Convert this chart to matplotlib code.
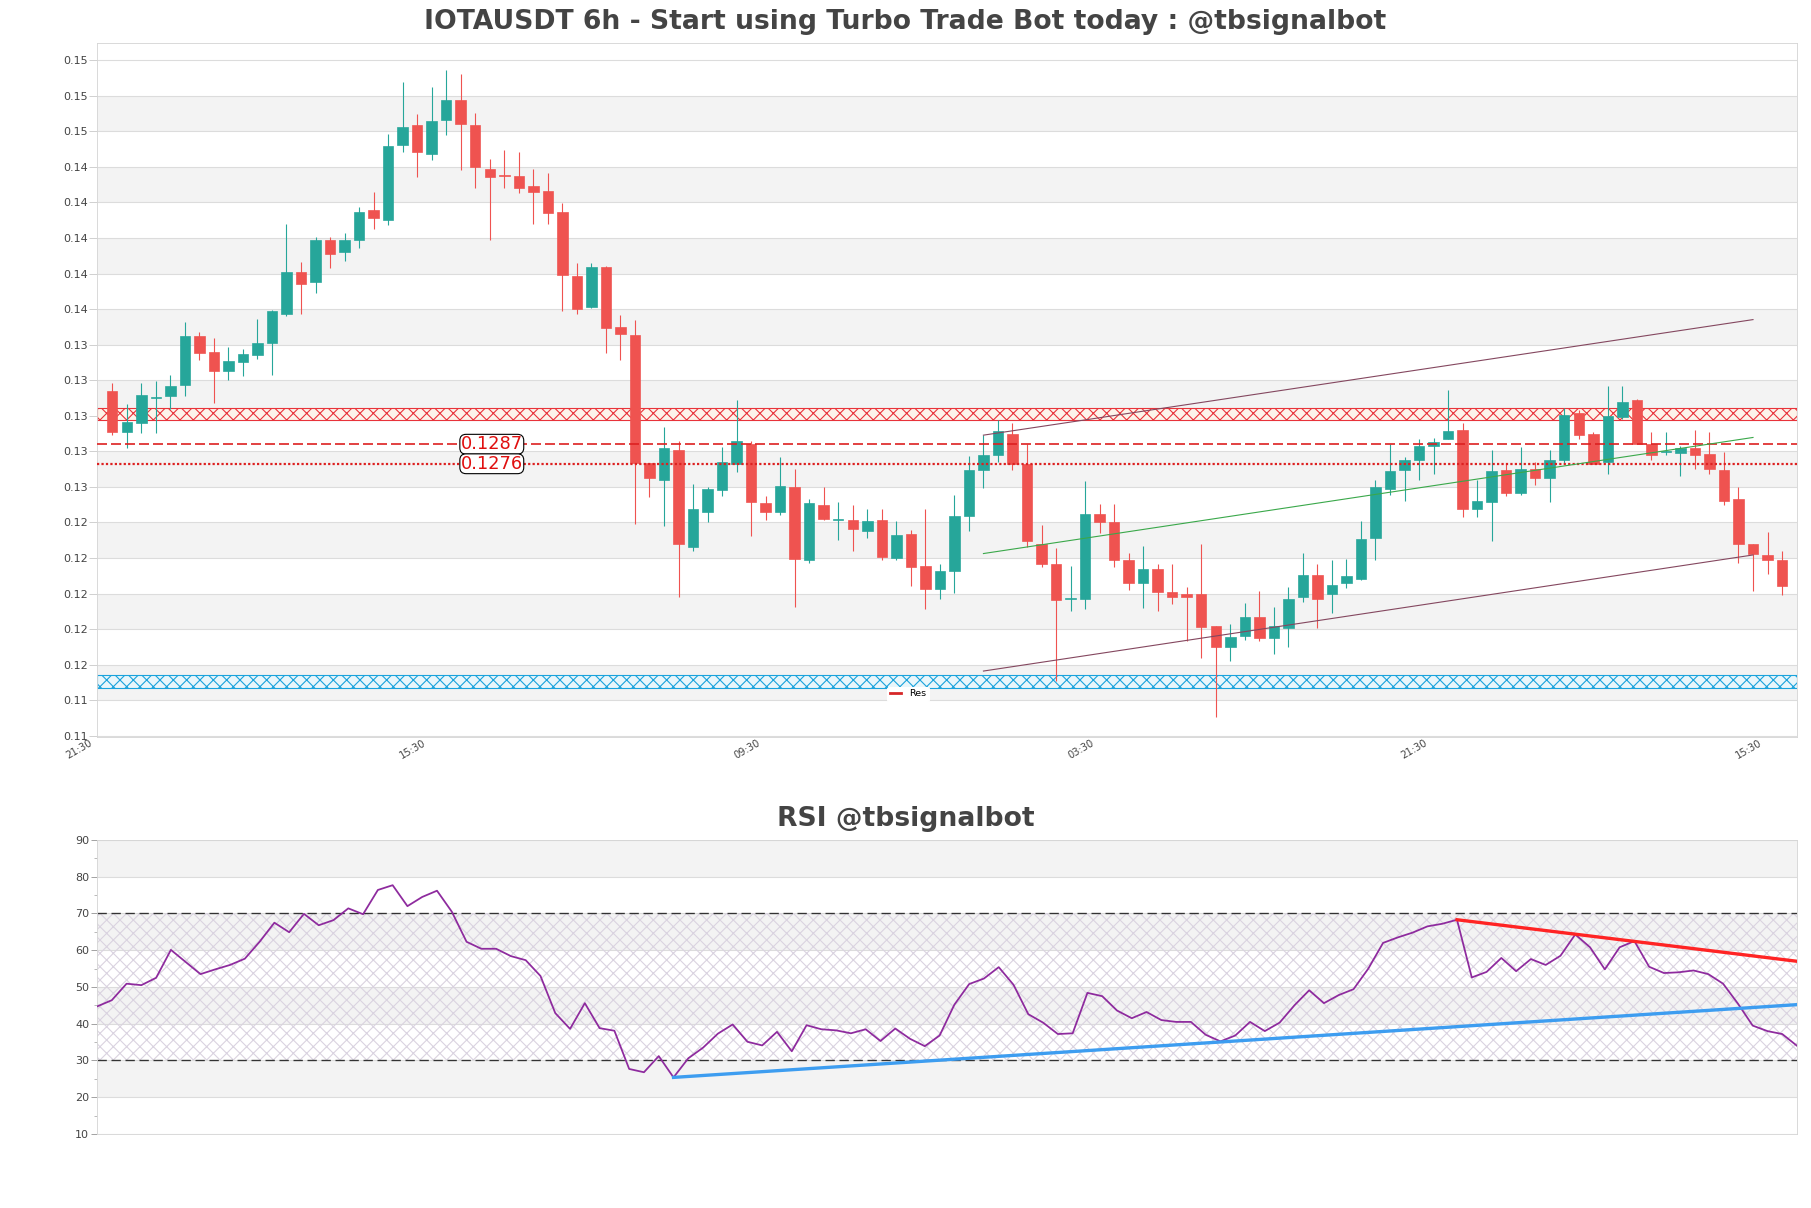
import numpy as np
import matplotlib.pyplot as plt
from matplotlib.lines import Line2D
from matplotlib.ticker import FormatStrFormatter, MultipleLocator
from matplotlib.transforms import ScaledTranslation

# IOTAUSDT 6h candles
opens = [0.13169, 0.12941, 0.12990, 0.13132, 0.13143, 0.13205, 0.13478, 0.13388, 0.13282, 0.13334,
         0.13373, 0.13440, 0.13605, 0.13837, 0.13783, 0.14018, 0.13954, 0.14020, 0.14186, 0.14132,
         0.14555, 0.14664, 0.14503, 0.14695, 0.14806, 0.14664, 0.14416, 0.14382, 0.14377, 0.14325,
         0.14292, 0.14176, 0.13814, 0.13644, 0.13866, 0.13527, 0.13484, 0.12763, 0.12670, 0.12836,
         0.12293, 0.12490, 0.12613, 0.12758, 0.12874, 0.12539, 0.12490, 0.12629, 0.12216, 0.12526,
         0.12446, 0.12446, 0.12384, 0.12446, 0.12229, 0.12363, 0.12187, 0.12053, 0.12156, 0.12464,
         0.12724, 0.12810, 0.12926, 0.12758, 0.12311, 0.12195, 0.11999, 0.12001, 0.12479, 0.12435,
         0.12221, 0.12092, 0.12169, 0.12040, 0.12027, 0.12027, 0.11847, 0.11730, 0.11790, 0.11898,
         0.11782, 0.11834, 0.12009, 0.12133, 0.12025, 0.12087, 0.12112, 0.12345, 0.12616, 0.12724,
         0.12784, 0.12861, 0.12897, 0.12952, 0.12505, 0.12544, 0.12724, 0.12593, 0.12732, 0.12681,
         0.12784, 0.13047, 0.12926, 0.12771, 0.13024, 0.13117, 0.12874, 0.12825, 0.12823, 0.12848,
         0.12815, 0.12724, 0.12564, 0.12311, 0.12247, 0.12221]
highs = [0.13212, 0.13094, 0.13212, 0.13225, 0.13259, 0.13556, 0.13502, 0.13466, 0.13416, 0.13406,
         0.13574, 0.13626, 0.14108, 0.13894, 0.14034, 0.14034, 0.14059, 0.14207, 0.14287, 0.14615,
         0.14906, 0.14726, 0.14878, 0.14973, 0.14955, 0.14736, 0.14472, 0.14524, 0.14516, 0.14416,
         0.14395, 0.14225, 0.13889, 0.13889, 0.13873, 0.13595, 0.13566, 0.12763, 0.12965, 0.12887,
         0.12644, 0.12632, 0.12854, 0.13120, 0.12887, 0.12580, 0.12797, 0.12732, 0.12564, 0.12629,
         0.12544, 0.12526, 0.12505, 0.12505, 0.12438, 0.12389, 0.12505, 0.12195, 0.12582, 0.12802,
         0.12921, 0.13009, 0.12990, 0.12874, 0.12415, 0.12286, 0.12187, 0.12665, 0.12531, 0.12531,
         0.12260, 0.12296, 0.12198, 0.12195, 0.12066, 0.12311, 0.11847, 0.11857, 0.11976, 0.12043,
         0.11952, 0.12066, 0.12260, 0.12195, 0.12221, 0.12224, 0.12438, 0.12668, 0.12874, 0.12797,
         0.12897, 0.12903, 0.13174, 0.12990, 0.12668, 0.12836, 0.12763, 0.12854, 0.12771, 0.12836,
         0.13076, 0.13065, 0.12936, 0.13200, 0.13200, 0.13125, 0.12939, 0.12939, 0.12861, 0.12952,
         0.12939, 0.12828, 0.12632, 0.12311, 0.12376, 0.12267]
lows = [0.12923, 0.12846, 0.12934, 0.12934, 0.13068, 0.13143, 0.13344, 0.13104, 0.13233, 0.13254,
        0.13352, 0.13262, 0.13592, 0.13605, 0.13721, 0.13863, 0.13902, 0.13974, 0.14083, 0.14103,
        0.14514, 0.14374, 0.14470, 0.14609, 0.14413, 0.14312, 0.14020, 0.14312, 0.14284, 0.14111,
        0.14111, 0.13618, 0.13605, 0.13639, 0.13385, 0.13344, 0.12422, 0.12575, 0.12409, 0.12012,
        0.12270, 0.12435, 0.12577, 0.12714, 0.12355, 0.12446, 0.12471, 0.11952, 0.12203, 0.12443,
        0.12332, 0.12270, 0.12345, 0.12216, 0.12221, 0.12074, 0.11945, 0.11999, 0.12035, 0.12384,
        0.12624, 0.12771, 0.12724, 0.12293, 0.12177, 0.11537, 0.11934, 0.11945, 0.12371, 0.12177,
        0.12051, 0.11947, 0.11934, 0.11973, 0.11764, 0.11666, 0.11333, 0.11653, 0.11769, 0.11764,
        0.11692, 0.11730, 0.11983, 0.11834, 0.11921, 0.12061, 0.12105, 0.12221, 0.12582, 0.12551,
        0.12670, 0.12704, 0.12897, 0.12461, 0.12461, 0.12324, 0.12577, 0.12582, 0.12642, 0.12544,
        0.12758, 0.12897, 0.12758, 0.12704, 0.13014, 0.12874, 0.12784, 0.12810, 0.12694, 0.12732,
        0.12704, 0.12526, 0.12203, 0.12043, 0.12138, 0.12022]
closes = [0.12941, 0.12993, 0.13145, 0.13135, 0.13197, 0.13478, 0.13385, 0.13282, 0.13336, 0.13375,
          0.13437, 0.13618, 0.13837, 0.13773, 0.14018, 0.13941, 0.14018, 0.14176, 0.14145, 0.14545,
          0.14653, 0.14514, 0.14687, 0.14806, 0.14671, 0.14431, 0.14374, 0.14377, 0.14312, 0.14289,
          0.14170, 0.13822, 0.13631, 0.13866, 0.13525, 0.13491, 0.12763, 0.12681, 0.12848, 0.12311,
          0.12505, 0.12616, 0.12771, 0.12887, 0.12544, 0.12487, 0.12634, 0.12224, 0.12539, 0.12451,
          0.12449, 0.12394, 0.12438, 0.12234, 0.12358, 0.12177, 0.12053, 0.12156, 0.12466, 0.12724,
          0.12810, 0.12944, 0.12758, 0.12324, 0.12195, 0.11996, 0.12004, 0.12479, 0.12435, 0.12216,
          0.12092, 0.12169, 0.12040, 0.12012, 0.12012, 0.11844, 0.11730, 0.11787, 0.11898, 0.11782,
          0.11847, 0.11999, 0.12133, 0.12001, 0.12076, 0.12128, 0.12337, 0.12629, 0.12719, 0.12784,
          0.12861, 0.12885, 0.12944, 0.12505, 0.12551, 0.12719, 0.12595, 0.12732, 0.12681, 0.12784,
          0.13034, 0.12923, 0.12758, 0.13027, 0.13107, 0.12874, 0.12810, 0.12830, 0.12848, 0.12810,
          0.12732, 0.12551, 0.12311, 0.12255, 0.12221, 0.12074]

rsi = [44.7, 46.4, 50.9, 50.5, 52.5, 60.1, 56.8, 53.5, 54.8, 56.0,
       57.7, 62.3, 67.5, 64.9, 69.9, 66.8, 68.2, 71.4, 69.8, 76.4,
       77.7, 72.0, 74.5, 76.2, 70.5, 62.3, 60.4, 60.4, 58.4, 57.3,
       53.0, 42.9, 38.6, 45.6, 38.8, 38.1, 27.7, 26.8, 31.2, 25.4,
       30.6, 33.5, 37.3, 39.8, 35.1, 34.1, 37.8, 32.5, 39.6, 38.5,
       38.2, 37.4, 38.5, 35.3, 38.7, 35.9, 33.9, 36.8, 45.2, 50.8,
       52.3, 55.4, 50.6, 42.6, 40.3, 37.2, 37.4, 48.4, 47.5, 43.6,
       41.5, 43.2, 41.0, 40.5, 40.5, 37.0, 35.2, 36.8, 40.5, 38.0,
       40.3, 45.0, 49.1, 45.6, 47.8, 49.4, 55.0, 62.0, 63.5, 64.8,
       66.5, 67.2, 68.3, 52.6, 54.1, 57.9, 54.3, 57.6, 56.0, 58.5,
       64.3, 60.8, 54.8, 60.8, 62.5, 55.5, 53.8, 54.0, 54.5, 53.5,
       50.9, 45.5, 39.5, 38.0, 37.2, 34.0]

tick_idx = [0, 23, 46, 69, 92, 115]
tick_labels = ['21:30', '15:30', '09:30', '03:30', '21:30', '15:30']
price_ticks = [0.1123, 0.1143, 0.1163, 0.1183, 0.1203, 0.1223, 0.1243, 0.1263, 0.1283, 0.1303,
               0.1323, 0.1343, 0.1363, 0.1383, 0.1403, 0.1423, 0.1443, 0.1463, 0.1483, 0.1503]

# support / resistance
res_zone = (0.13009, 0.13076)
sup_zone = (0.11501, 0.11570)
res_level = 0.1287
res_level2 = 0.1276

# channel lines: (x start, x end), (price start, price end)
chan_top = ([60, 113], [0.12921, 0.13571])
chan_mid = ([60, 113], [0.12255, 0.12908])
chan_low = ([60, 113], [0.11594, 0.12247])
rsi_sup_line = ([39, 115], [25.4, 45.2])
rsi_res_line = ([92, 115], [68.3, 57.0])

GREEN = '#26a69a'
RED = '#ef5350'
SPINE = '#d6d6d6'
BAND = '#f3f3f3'

fig = plt.figure(figsize=(1811 / 80, 1208 / 80), dpi=80)
ax = fig.add_axes([0.05356, 0.38990, 0.93871, 0.57450])
ax2 = fig.add_axes([0.05356, 0.06126, 0.93871, 0.24338])

# ---- price panel ----
x = np.arange(len(opens))
o = np.array(opens)
c = np.array(closes)
up = c >= o
colors = np.where(up, GREEN, RED)

for k in range(1, len(price_ticks) - 1, 2):
    ax.axhspan(price_ticks[k], price_ticks[k + 1], color=BAND, lw=0, zorder=0)

ax.axhspan(*res_zone, facecolor='#fdf4ea', edgecolor='#e8333a', hatch='xx', lw=1, zorder=1)
ax.axhspan(*sup_zone, facecolor='#e9f6fb', edgecolor='#1aa3dc', hatch='xx', lw=1, zorder=1)

ax.vlines(x, lows, highs, color=colors, lw=1, zorder=3)
ax.bar(x, np.abs(c - o), bottom=np.minimum(o, c), width=0.72, color=colors,
       edgecolor=colors, lw=0.6, zorder=4)

ax.axhline(res_level, color='#dd2020', ls=(0, (6, 2.4)), lw=1.5, zorder=5)
ax.axhline(res_level2, color='#dd2020', ls=(0, (1, 1)), lw=2, zorder=5)
box = dict(boxstyle='round,pad=0.05,rounding_size=0.35', fc='white', ec='black', lw=1)
ax.text(24, res_level, '%.4f' % res_level, color='#e01010', fontsize=16, ha='left', va='center',
        bbox=box, zorder=6)
ax.text(24, res_level2, '%.4f' % res_level2, color='#e01010', fontsize=16, ha='left', va='center',
        bbox=box, zorder=6)

ax.plot(*chan_top, color='#84475f', lw=1, zorder=5)
ax.plot(*chan_low, color='#84475f', lw=1, zorder=5)
ax.plot(*chan_mid, color='#3aa84a', lw=1, zorder=5)

ax.set_xlim(-1.05, 116.03)
ax.set_ylim(0.11223, 0.15127)
ax.set_yticks(price_ticks)
ax.yaxis.set_major_formatter(FormatStrFormatter('%.2f'))
ax.yaxis.grid(True, color='#dcdcdc', lw=1)
ax.set_axisbelow(True)
ax.tick_params(axis='y', length=7.5, color='#cccccc', labelsize=10, labelcolor='#444444', pad=1)
ax.set_xticks(tick_idx)
ax.set_xticklabels(tick_labels, rotation=30, ha='right', fontsize=9, color='#444444')
ax.tick_params(axis='x', length=0, pad=1)
shift = ScaledTranslation(-18.7 / 80, 0, fig.dpi_scale_trans)
for lbl in ax.get_xticklabels():
    lbl.set_transform(lbl.get_transform() + shift)
for s in ax.spines.values():
    s.set_color(SPINE)

fig.legend(handles=[Line2D([], [], color='#d62728', lw=2.5)], labels=['Res'], loc='center',
           bbox_to_anchor=(0.5014, 0.4255), fontsize=8.5, facecolor='white', edgecolor='white',
           framealpha=1, handlelength=1.2, borderpad=0.3)

# ---- RSI panel ----
for lo in [20, 40, 60, 80]:
    ax2.axhspan(lo, lo + 10, color=BAND, lw=0, zorder=0)
ax2.axhspan(30, 70, facecolor='none', edgecolor='#dad3e0', hatch='xx', lw=0, zorder=1)
ax2.axhline(30, color='#333333', ls=(0, (7, 3.5)), lw=1.2, zorder=2)
ax2.axhline(70, color='#333333', ls=(0, (7, 3.5)), lw=1.2, zorder=2)
ax2.plot(np.arange(len(rsi)), rsi, color='#8e2b9e', lw=1.6, zorder=4)
ax2.plot(*rsi_sup_line, color='#3d9df0', lw=3, zorder=5)
ax2.plot(*rsi_res_line, color='#ff2424', lw=3, zorder=5)

ax2.set_xlim(0, len(rsi) - 1)
ax2.set_ylim(10, 90)
ax2.yaxis.set_major_locator(MultipleLocator(10))
ax2.yaxis.set_minor_locator(MultipleLocator(5))
ax2.yaxis.grid(True, color='#dcdcdc', lw=1)
ax2.set_axisbelow(True)
ax2.set_xticks([])
ax2.tick_params(axis='y', which='major', length=5, color='#999999', labelsize=10,
                labelcolor='#444444', pad=2)
ax2.tick_params(axis='y', which='minor', length=2.5, color='#999999')
for s in ax2.spines.values():
    s.set_color(SPINE)

fig.text(0.5, 0.9818, 'IOTAUSDT 6h - Start using Turbo Trade Bot today : @tbsignalbot',
         ha='center', va='center', fontsize=24, fontweight='bold', color='#444444')
fig.text(0.5, 0.3220, 'RSI @tbsignalbot', ha='center', va='center', fontsize=24,
         fontweight='bold', color='#444444')

fig.savefig('out.png', dpi=80)
